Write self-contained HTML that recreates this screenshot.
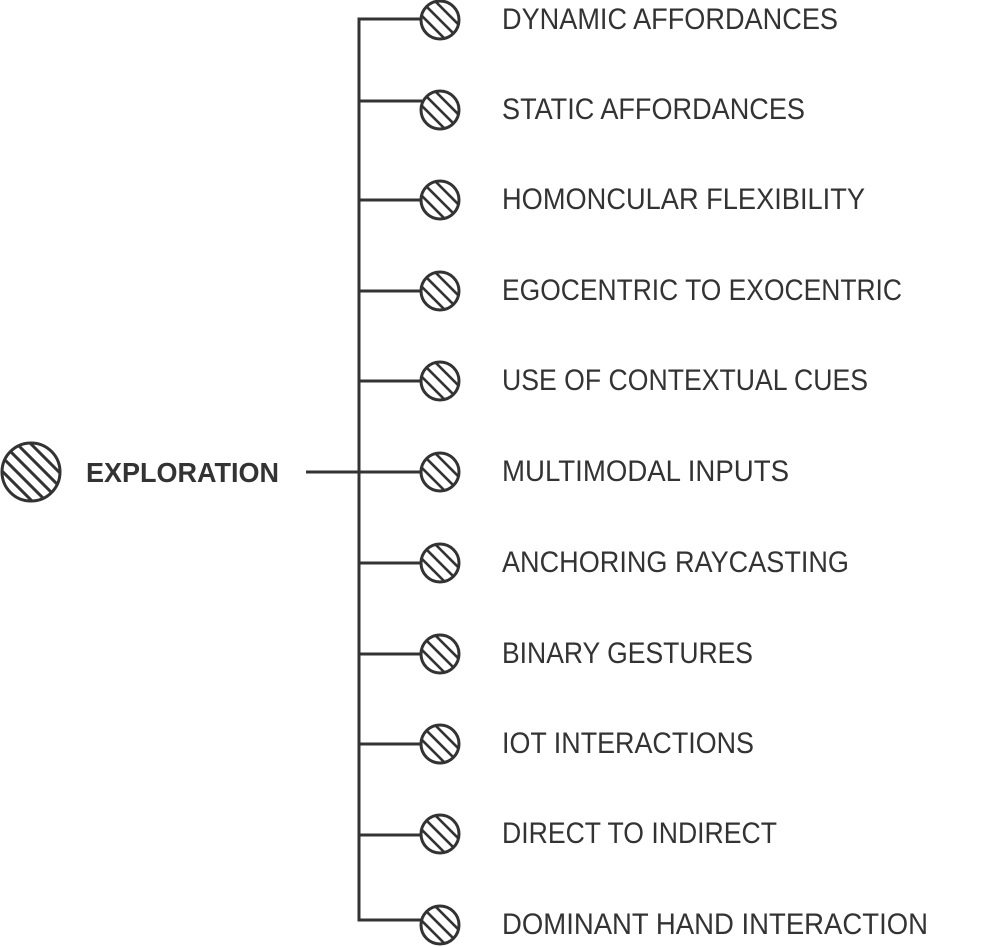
<!DOCTYPE html>
<html><head><meta charset="utf-8"><style>
html,body{margin:0;padding:0;background:#fff;}
svg{display:block;}
text{font-family:"Liberation Sans",sans-serif;fill:#333;}
</style></head><body>
<svg width="1001" height="947" viewBox="0 0 1001 947" xmlns="http://www.w3.org/2000/svg">
<defs>
<clipPath id="cs"><circle cx="0" cy="0" r="18"/></clipPath>
<clipPath id="cb"><circle cx="0" cy="0" r="28.5"/></clipPath>
<g id="sm">
  <circle cx="0" cy="0" r="19" fill="#fff"/>
  <g clip-path="url(#cs)" stroke="#333" stroke-width="2.6">
    <line x1="-30" y1="-44" x2="30" y2="16"/>
    <line x1="-30" y1="-30" x2="30" y2="30"/>
    <line x1="-30" y1="-16" x2="30" y2="44"/>
  </g>
  <circle cx="0" cy="0" r="19" fill="none" stroke="#333" stroke-width="3"/>
</g>
</defs>
<g stroke="#333" stroke-width="3" fill="none">
  <line x1="359" y1="18" x2="359" y2="921"/>
  <line x1="306" y1="472" x2="359" y2="472"/>
  <line x1="357.5" y1="19" x2="422" y2="19"/>
  <line x1="359" y1="101" x2="422" y2="101"/>
  <line x1="359" y1="200" x2="422" y2="200"/>
  <line x1="359" y1="291" x2="422" y2="291"/>
  <line x1="359" y1="381" x2="422" y2="381"/>
  <line x1="359" y1="472" x2="422" y2="472"/>
  <line x1="359" y1="563" x2="422" y2="563"/>
  <line x1="359" y1="654" x2="422" y2="654"/>
  <line x1="359" y1="744" x2="422" y2="744"/>
  <line x1="359" y1="835" x2="422" y2="835"/>
  <line x1="357.5" y1="920" x2="422" y2="920"/>
</g>
<use href="#sm" x="440" y="20"/>
<use href="#sm" x="440" y="110"/>
<use href="#sm" x="440" y="200"/>
<use href="#sm" x="440" y="291"/>
<use href="#sm" x="440" y="381"/>
<use href="#sm" x="440" y="472"/>
<use href="#sm" x="440" y="563"/>
<use href="#sm" x="440" y="654"/>
<use href="#sm" x="440" y="744"/>
<use href="#sm" x="440" y="834"/>
<use href="#sm" x="440" y="925"/>
<g transform="translate(31,472)">
  <g clip-path="url(#cb)" stroke="#333" stroke-width="3">
    <line x1="-50" y1="-78" x2="50" y2="22"/>
    <line x1="-50" y1="-64" x2="50" y2="36"/>
    <line x1="-50" y1="-50" x2="50" y2="50"/>
    <line x1="-50" y1="-36" x2="50" y2="64"/>
    <line x1="-50" y1="-22" x2="50" y2="78"/>
  </g>
  <circle cx="0" cy="0" r="29" fill="none" stroke="#333" stroke-width="3"/>
</g>
<text x="86" y="482" font-size="28" font-weight="bold" textLength="193" lengthAdjust="spacingAndGlyphs">EXPLORATION</text>
<g font-size="30">
<text x="502" y="29" textLength="336" lengthAdjust="spacingAndGlyphs">DYNAMIC AFFORDANCES</text>
<text x="502" y="119" textLength="303" lengthAdjust="spacingAndGlyphs">STATIC AFFORDANCES</text>
<text x="502" y="209" textLength="363" lengthAdjust="spacingAndGlyphs">HOMONCULAR FLEXIBILITY</text>
<text x="502" y="300" textLength="400" lengthAdjust="spacingAndGlyphs">EGOCENTRIC TO EXOCENTRIC</text>
<text x="502" y="390" textLength="366" lengthAdjust="spacingAndGlyphs">USE OF CONTEXTUAL CUES</text>
<text x="502" y="481" textLength="287" lengthAdjust="spacingAndGlyphs">MULTIMODAL INPUTS</text>
<text x="502" y="572" textLength="347" lengthAdjust="spacingAndGlyphs">ANCHORING RAYCASTING</text>
<text x="502" y="663" textLength="251" lengthAdjust="spacingAndGlyphs">BINARY GESTURES</text>
<text x="502" y="753" textLength="252" lengthAdjust="spacingAndGlyphs">IOT INTERACTIONS</text>
<text x="502" y="843" textLength="275" lengthAdjust="spacingAndGlyphs">DIRECT TO INDIRECT</text>
<text x="502" y="934" textLength="426" lengthAdjust="spacingAndGlyphs">DOMINANT HAND INTERACTION</text>
</g>
</svg>
</body></html>
